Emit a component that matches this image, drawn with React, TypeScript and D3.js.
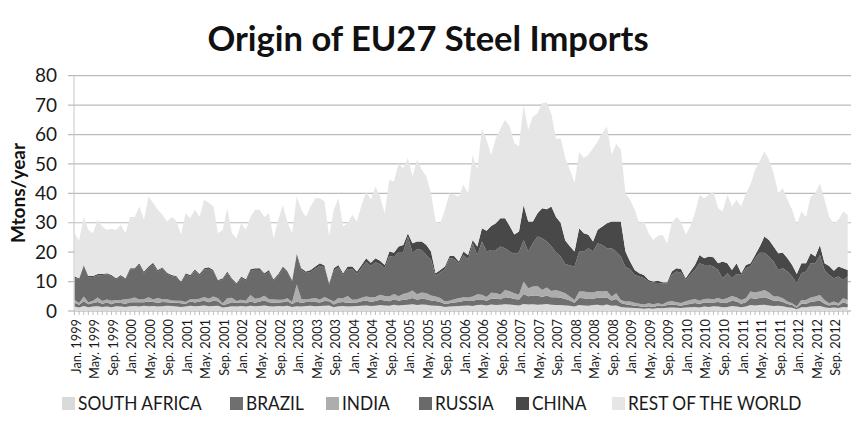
import React, { useEffect, useRef } from 'react'
import * as d3 from 'd3'

const seriesNames = ['SOUTH AFRICA', 'BRAZIL', 'INDIA', 'RUSSIA', 'CHINA', 'REST OF THE WORLD']
const years = [1999, 2000, 2001, 2002, 2003, 2004, 2005, 2006, 2007, 2008, 2009, 2010, 2011, 2012]
const monthAbbr = ['Jan.', 'Feb.', 'Mar.', 'Apr.', 'May.', 'Jun.', 'Jul.', 'Aug.', 'Sep.', 'Oct.', 'Nov.', 'Dec.']
const yTicks = [0, 10, 20, 30, 40, 50, 60, 70, 80]

// Mtons/year, monthly, Jan 1999 - Dec 2012
const southAfrica = [
  1.5, 1.2, 1.7, 1.3, 1.5, 1.6, 1.4, 1.5, 1.3, 1.6, 1.5, 1.4,
  1.6, 1.7, 1.5, 1.8, 1.6, 1.7, 1.5, 1.6, 1.8, 1.7, 1.5, 1.4,
  1.5, 1.8, 1.6, 1.7, 1.9, 1.6, 1.7, 1.8, 1.2, 1.4, 1.6, 1.5,
  1.7, 1.5, 1.8, 1.6, 1.7, 1.9, 1.6, 1.5, 1.7, 1.6, 1.8, 1.4,
  1.6, 1.5, 1.7, 1.8, 1.6, 1.7, 1.8, 1.9, 1.3, 1.6, 1.7, 1.5,
  1.6, 1.7, 1.8, 1.9, 1.7, 1.8, 2.0, 1.9, 1.8, 2.1, 1.9, 2.0,
  2.1, 2.3, 2.0, 2.2, 2.1, 1.9, 1.8, 1.7, 1.4, 1.5, 1.6, 1.7,
  1.8, 1.9, 1.7, 2.0, 2.1, 1.9, 2.2, 2.0, 2.1, 2.3, 2.2, 2.0,
  1.9, 2.4, 2.2, 2.3, 2.1, 2.2, 2.4, 2.1, 2.0, 2.0, 1.9, 1.8,
  1.5, 2.0, 1.9, 1.8, 2.0, 2.1, 1.9, 2.2, 1.8, 1.9, 1.4, 1.2,
  1.1, 1.0, 0.9, 0.8, 0.9, 0.8, 1.0, 0.9, 1.1, 1.2, 1.1, 1.0,
  1.2, 1.3, 1.4, 1.2, 1.5, 1.4, 1.6, 1.5, 1.3, 1.4, 1.7, 1.5,
  1.3, 1.5, 2.0, 1.9, 2.0, 2.1, 1.9, 1.7, 1.8, 1.6, 1.3, 1.1,
  0.6, 1.3, 1.3, 1.5, 1.6, 1.7, 1.3, 1.0, 1.2, 1.0, 1.4, 1.3,
]
const brazil = [
  1.3, 0.9, 1.6, 1.0, 1.2, 1.5, 1.1, 1.4, 1.0, 1.3, 1.2, 1.1,
  1.4, 1.3, 1.5, 1.2, 1.6, 1.4, 1.3, 1.5, 1.2, 1.1, 1.3, 1.2,
  1.0, 1.4, 1.3, 1.5, 1.6, 1.4, 1.8, 1.5, 0.8, 1.0, 1.4, 1.2,
  1.3, 1.1, 1.4, 1.2, 1.5, 1.7, 1.4, 1.3, 1.2, 1.4, 1.5, 1.0,
  1.6, 1.2, 1.4, 1.3, 1.5, 1.2, 1.6, 1.4, 0.9, 1.3, 1.4, 1.2,
  1.3, 1.2, 1.5, 1.7, 1.4, 1.6, 1.8, 1.7, 1.5, 1.9, 1.6, 1.8,
  1.9, 2.1, 1.8, 2.0, 1.9, 1.7, 1.6, 1.4, 1.0, 1.1, 1.3, 1.4,
  1.6, 1.5, 1.7, 1.9, 1.8, 1.6, 2.0, 2.2, 1.9, 2.4, 2.3, 2.1,
  2.0, 3.4, 2.8, 3.0, 3.2, 2.6, 2.9, 2.6, 2.7, 2.5, 2.2, 1.8,
  1.3, 2.4, 2.4, 2.3, 2.2, 2.4, 2.5, 2.4, 1.8, 2.2, 1.3, 1.1,
  0.9, 0.8, 0.7, 0.6, 0.7, 0.6, 0.8, 0.7, 0.9, 1.0, 0.9, 0.8,
  1.0, 1.1, 1.3, 1.2, 1.4, 1.5, 1.3, 1.6, 1.4, 1.5, 1.8, 1.7,
  1.2, 1.5, 2.4, 2.3, 2.4, 2.6, 2.3, 1.8, 1.7, 1.5, 1.1, 0.9,
  0.5, 1.2, 1.2, 1.6, 1.7, 1.8, 1.2, 0.9, 1.1, 0.9, 1.5, 1.2,
]
const india = [
  0.9, 0.6, 1.6, 0.7, 0.8, 1.5, 0.9, 1.0, 1.2, 0.8, 1.0, 1.5,
  1.2, 1.6, 0.9, 1.0, 1.5, 0.8, 1.6, 0.9, 1.0, 0.8, 0.7, 0.9,
  0.6, 0.8, 1.1, 1.0, 1.3, 1.2, 1.4, 1.0, 0.6, 1.9, 1.5, 0.7,
  0.8, 0.9, 2.2, 1.4, 1.2, 1.6, 1.0, 1.1, 0.9, 0.8, 1.0, 0.7,
  5.8, 1.4, 0.8, 1.1, 1.3, 0.9, 1.4, 0.7, 1.0, 1.5, 1.2, 2.4,
  0.9, 1.0, 1.2, 1.3, 1.6, 1.4, 1.7, 1.5, 1.6, 1.8, 1.5, 2.0,
  2.2, 2.6, 1.9, 2.1, 2.0, 1.7, 1.5, 1.3, 0.8, 0.9, 1.1, 1.2,
  1.3, 1.2, 1.5, 1.8, 1.6, 1.3, 2.0, 1.9, 1.6, 2.4, 2.2, 1.9,
  1.6, 4.2, 2.7, 3.0, 3.2, 2.3, 2.7, 2.1, 2.4, 2.1, 1.9, 1.3,
  0.9, 2.2, 2.3, 2.3, 2.1, 2.3, 2.2, 2.2, 1.3, 1.9, 1.0, 0.9,
  1.2, 1.0, 0.9, 0.8, 1.0, 0.9, 0.8, 0.7, 1.1, 1.2, 1.0, 0.9,
  1.1, 1.3, 1.4, 1.1, 1.2, 1.3, 1.1, 1.3, 1.2, 1.5, 1.6, 1.4,
  1.2, 1.3, 2.2, 2.1, 2.2, 2.4, 2.1, 1.4, 1.4, 1.2, 0.8, 0.6,
  0.4, 1.2, 1.2, 1.5, 1.6, 1.9, 1.2, 0.7, 0.9, 0.7, 1.4, 1.2,
]
const russia = [
  7.6, 8.1, 10.2, 8.5, 8.1, 7.5, 8.8, 8.6, 8.3, 7.1, 8.1, 6.8,
  9.9, 9.4, 11.7, 9.0, 9.9, 11.9, 9.0, 10.5, 8.7, 8.2, 8.1, 6.2,
  9.3, 7.7, 9.8, 7.8, 9.2, 10.2, 8.6, 5.9, 8.1, 8.6, 6.3, 5.7,
  7.5, 6.8, 8.2, 9.8, 9.5, 7.1, 9.3, 6.5, 8.3, 10.7, 8.7, 7.0,
  9.9, 9.8, 9.0, 9.1, 10.0, 11.6, 10.0, 4.9, 10.6, 10.4, 7.9, 9.2,
  10.4, 8.7, 10.1, 11.8, 10.6, 11.8, 10.4, 9.5, 13.8, 12.6, 15.1, 14.2,
  19.1, 12.8, 15.3, 14.4, 13.0, 12.0, 7.1, 8.7, 11.0, 14.4, 13.7, 11.7,
  14.3, 12.9, 18.1, 13.3, 18.1, 15.4, 14.5, 14.6, 16.3, 14.2, 13.5, 13.5,
  14.5, 14.1, 12.5, 14.7, 16.8, 17.6, 15.6, 15.2, 12.9, 11.9, 10.0, 10.6,
  11.4, 13.6, 13.6, 14.9, 13.9, 16.2, 15.8, 14.5, 16.4, 14.2, 14.8, 11.8,
  11.0, 9.4, 9.2, 8.9, 7.4, 7.3, 6.9, 7.1, 6.3, 8.8, 10.4, 10.3,
  7.2, 8.5, 9.8, 12.7, 11.5, 11.4, 11.1, 9.5, 7.2, 8.4, 6.0, 8.0,
  8.5, 10.2, 8.6, 11.6, 13.2, 12.7, 12.2, 11.9, 9.0, 10.2, 10.2, 9.1,
  7.9, 9.1, 9.7, 11.6, 11.3, 13.6, 10.2, 9.6, 7.9, 9.1, 6.2, 8.0,
]
const china = [
  0.4, 0.3, 0.5, 0.4, 0.3, 0.5, 0.4, 0.3, 0.4, 0.3, 0.4, 0.3,
  0.4, 0.5, 0.6, 0.4, 0.5, 0.6, 0.5, 0.4, 0.3, 0.4, 0.3, 0.3,
  0.4, 0.5, 0.4, 0.6, 0.5, 0.5, 0.4, 0.3, 0.4, 0.5, 0.3, 0.3,
  0.4, 0.5, 0.6, 0.5, 0.6, 0.5, 0.6, 0.4, 0.5, 0.6, 0.5, 0.4,
  0.7, 0.6, 0.5, 0.6, 0.7, 0.8, 0.7, 0.5, 0.7, 0.8, 0.6, 0.8,
  0.9, 0.8, 1.0, 1.2, 1.1, 1.3, 1.2, 1.0, 1.5, 1.4, 1.8, 2.4,
  1.1, 3.2, 2.6, 2.9, 3.4, 2.9, 0.8, 0.8, 0.9, 0.8, 1.0, 0.8,
  1.2, 1.5, 1.1, 2.9, 4.5, 7.1, 8.2, 9.1, 9.6, 10.2, 8.7, 6.5,
  7.0, 11.9, 10.2, 7.4, 7.9, 10.2, 11.0, 13.5, 12.0, 11.5, 8.0, 6.5,
  5.1, 7.9, 6.2, 4.6, 3.4, 4.6, 6.3, 8.5, 9.1, 10.2, 11.9, 5.2,
  2.6, 1.7, 1.1, 1.1, 0.5, 0.4, 0.8, 0.4, 0.4, 1.2, 1.1, 1.3,
  0.6, 1.2, 1.7, 2.8, 2.3, 2.9, 3.2, 2.3, 5.7, 3.4, 2.8, 3.6,
  0.6, 1.1, 1.0, 1.1, 2.1, 5.5, 5.6, 5.1, 5.7, 5.3, 4.5, 3.9,
  3.2, 3.4, 2.8, 3.4, 2.3, 3.4, 2.3, 3.1, 2.6, 3.4, 4.0, 2.2,
]
const restOfWorld = [
  14.7, 12.9, 16.4, 15.6, 14.5, 18.4, 16.1, 14.7, 15.8, 16.4, 17.1, 15.3,
  17.5, 17.5, 19.3, 17.6, 23.8, 20.2, 20.5, 17.8, 17.4, 19.8, 18.8, 15.9,
  20.4, 19.3, 20.2, 19.4, 23.3, 21.9, 21.6, 15.9, 16.4, 21.5, 15.3, 15.3,
  18.1, 16.7, 17.8, 19.9, 19.9, 19.2, 19.3, 13.9, 18.4, 20.9, 16.5, 15.9,
  19.3, 19.9, 18.6, 21.6, 23.2, 22.1, 21.7, 15.9, 19.9, 22.7, 15.9, 14.7,
  17.6, 17.0, 20.4, 22.7, 21.4, 24.4, 21.8, 17.6, 24.4, 24.2, 28.3, 26.1,
  25.6, 22.7, 27.8, 24.4, 23.3, 19.8, 17.6, 15.9, 19.3, 21.3, 20.8, 22.1,
  22.7, 21.0, 28.9, 26.1, 33.9, 30.9, 24.1, 28.9, 30.5, 33.5, 33.8, 31.0,
  29.0, 34.0, 31.2, 35.7, 34.0, 35.7, 36.4, 31.5, 26.5, 28.7, 28.0, 26.0,
  23.3, 25.9, 25.6, 27.2, 31.7, 30.0, 31.7, 32.9, 22.7, 26.4, 24.4, 19.8,
  21.0, 20.5, 17.0, 18.2, 15.9, 14.1, 15.2, 16.1, 13.2, 16.4, 17.5, 16.1,
  14.8, 15.3, 17.6, 20.5, 20.4, 21.0, 22.3, 18.7, 17.0, 23.3, 21.6, 21.6,
  22.7, 24.4, 26.8, 29.0, 29.1, 28.9, 27.3, 24.9, 20.4, 21.9, 19.9, 18.8,
  16.7, 17.6, 15.8, 19.3, 21.5, 21.0, 21.6, 16.7, 16.1, 15.9, 19.3, 18.8,
]

const colors = ['#dadada', '#6f6f6f', '#adadad', '#6a6a6a', '#484848', '#e6e6e6']
const font = 'Lato, "Open Sans", sans-serif'

function App() {
  const ref = useRef<SVGSVGElement>(null)

  useEffect(() => {
    const svg = d3.select(ref.current)
    svg.selectAll('*').remove()

    const width = 851
    const height = 424
    const left = 74
    const bottom = 311

    const months = years.flatMap(y => monthAbbr.map(m => `${m} ${y}`))
    const rows = months.map((label, i) => ({
      i,
      label,
      [seriesNames[0]]: southAfrica[i],
      [seriesNames[1]]: brazil[i],
      [seriesNames[2]]: india[i],
      [seriesNames[3]]: russia[i],
      [seriesNames[4]]: china[i],
      [seriesNames[5]]: restOfWorld[i],
    }))

    const x = d3.scaleLinear().domain([0, months.length - 1]).range([left + 0.5, left + 0.5 + 4.63 * (months.length - 1)])
    const y = d3.scaleLinear().domain([0, 80]).range([bottom, 75.7])

    svg.append('rect').attr('width', width).attr('height', height).attr('fill', '#fff')

    // gridlines
    svg.append('g')
      .selectAll('line')
      .data(yTicks)
      .enter()
      .append('line')
      .attr('x1', left - 6)
      .attr('x2', width)
      .attr('y1', d => y(d))
      .attr('y2', d => y(d))
      .attr('stroke', d => (d === 0 ? '#a8a8a8' : '#bbbbbb'))
      .attr('stroke-width', 1.2)

    const stack = d3.stack<any>().keys(seriesNames)
    const layers = stack(rows)

    const area = d3.area<any>()
      .x(d => x(d.data.i))
      .y0(d => y(d[0]))
      .y1(d => y(d[1]))

    svg.append('g')
      .selectAll('path')
      .data(layers)
      .enter()
      .append('path')
      .attr('d', area)
      .attr('fill', (d, i) => colors[i])

    // y axis line
    svg.append('line')
      .attr('x1', left).attr('x2', left)
      .attr('y1', y(80)).attr('y2', bottom)
      .attr('stroke', '#c8c8c8')
      .attr('stroke-width', 1)

    // month ticks
    svg.append('g')
      .selectAll('line')
      .data(months)
      .enter()
      .append('line')
      .attr('x1', (d, i) => x(i))
      .attr('x2', (d, i) => x(i))
      .attr('y1', bottom)
      .attr('y2', bottom + 4)
      .attr('stroke', '#b0b0b0')
      .attr('stroke-width', 0.8)

    // y tick labels
    svg.append('g')
      .selectAll('text')
      .data(yTicks)
      .enter()
      .append('text')
      .attr('x', 57)
      .attr('y', d => y(d))
      .attr('dy', '0.35em')
      .attr('text-anchor', 'end')
      .attr('font-family', font)
      .attr('font-size', 19)
      .attr('fill', '#1a1a1a')
      .text(d => d)

    // x tick labels every 4 months
    svg.append('g')
      .selectAll('text')
      .data(months.map((label, i) => ({ label, i })).filter(d => d.i % 4 === 0))
      .enter()
      .append('text')
      .attr('transform', d => `translate(${x(d.i) + 1.8},${bottom + 8}) rotate(-90)`)
      .attr('dy', '0.35em')
      .attr('text-anchor', 'end')
      .attr('font-family', font)
      .attr('font-size', 12.8)
      .attr('fill', '#1a1a1a')
      .text(d => d.label)

    // axis title
    svg.append('text')
      .attr('transform', 'translate(25,193) rotate(-90)')
      .attr('text-anchor', 'middle')
      .attr('font-family', font)
      .attr('font-weight', 'bold')
      .attr('font-size', 19)
      .attr('fill', '#111')
      .text('Mtons/year')

    // title
    svg.append('text')
      .attr('x', 428)
      .attr('y', 51)
      .attr('text-anchor', 'middle')
      .attr('font-family', font)
      .attr('font-weight', 'bold')
      .attr('font-size', 34.5)
      .attr('fill', '#111')
      .text('Origin of EU27 Steel Imports')

    // legend
    const legendX = [62, 230, 326, 419, 516, 612]
    const legend = svg.append('g')
      .selectAll('g')
      .data(seriesNames)
      .enter()
      .append('g')
      .attr('transform', (d, i) => `translate(${legendX[i]},397)`)
    legend.append('rect')
      .attr('width', 13)
      .attr('height', 13)
      .attr('fill', (d, i) => colors[i])
    legend.append('text')
      .attr('x', 16)
      .attr('y', 6.5)
      .attr('dy', '0.36em')
      .attr('font-family', font)
      .attr('font-size', 19)
      .attr('fill', '#1a1a1a')
      .text(d => d)
      .each(function () {
        const t = this as SVGTextElement
        const w = t.getComputedTextLength()
        t.setAttribute('textLength', String(w * 0.91))
        t.setAttribute('lengthAdjust', 'spacingAndGlyphs')
      })
  }, [])

  return (
    <svg ref={ref} width={851} height={424} style={{ position: 'absolute', left: 0, top: 0 }}></svg>
  )
}

export default App
